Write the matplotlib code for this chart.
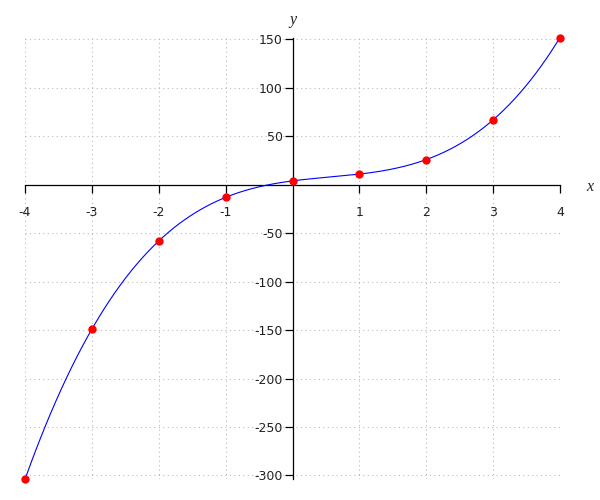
import matplotlib
matplotlib.use("Agg")
import matplotlib.pyplot as plt
import numpy as np

plt.rcParams["axes.unicode_minus"] = False

# points
xs = [-4, -3, -2, -1, 0, 1, 2, 3, 4]
ys = [-304, -149, -58, -13, 4, 11, 26, 67, 152]
xticks = [-4, -3, -2, -1, 1, 2, 3, 4]
yticks = [-300, -250, -200, -150, -100, -50, 50, 100, 150]

fig = plt.figure(figsize=(6, 5), dpi=100)
ax = fig.add_axes([25 / 600, 20.7 / 500, 535 / 600, 441.8 / 500])

# smooth curve through the points (cubic fit)
coef = np.polyfit(xs, ys, 3)
xx = np.linspace(xs[0], xs[-1], 400)
ax.plot(xx, np.polyval(coef, xx), color="blue", lw=0.8, zorder=3)
ax.plot(xs, ys, "o", color="red", ms=5, mec="red", zorder=4, clip_on=False)

ax.set_xlim(-4, 4)
ax.set_ylim(-304, 152)
ax.set_xticks(xticks)
ax.set_yticks(yticks)

# dotted grid, axes crossing at the origin
ax.grid(True, color="#bbbbbb", lw=0.8, linestyle=(0, (1, 3)))
ax.set_axisbelow(True)
for side in ["top", "right"]:
    ax.spines[side].set_visible(False)
ax.spines["left"].set_position(("data", 0))
ax.spines["bottom"].set_position(("data", 0))
ax.spines["left"].set_linewidth(0.9)
ax.spines["bottom"].set_linewidth(0.9)

ax.tick_params(axis="x", direction="out", length=5.5, width=0.9, pad=10,
               labelsize=9, labelcolor="#222222")
ax.tick_params(axis="y", direction="out", length=5.5, width=0.9, pad=1.5,
               labelsize=9, labelcolor="#222222")

ax.annotate("y", xy=(0, 1), xycoords=("data", "axes fraction"),
            xytext=(0, 17), textcoords="offset pixels", ha="center", va="center",
            family="Liberation Serif", style="italic", fontsize=11.5, color="#222222")
ax.annotate("x", xy=(1, 0), xycoords=("axes fraction", "data"),
            xytext=(30, -2), textcoords="offset pixels", ha="center", va="center",
            family="Liberation Serif", style="italic", fontsize=11.5, color="#222222")

fig.savefig("out.png", dpi=100)
